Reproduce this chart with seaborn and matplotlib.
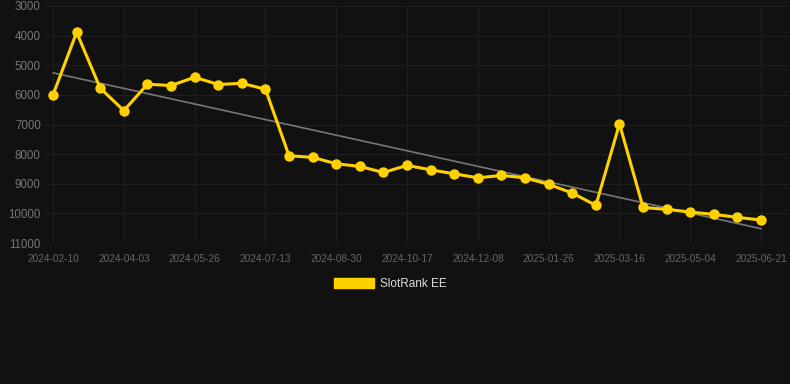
import numpy as np
import pandas as pd
import seaborn as sns
import matplotlib.pyplot as plt
from matplotlib.patches import Patch

# rank readings, one every ~16 days
rank = [6000, 3890, 5775, 6530, 5640, 5685, 5405, 5650, 5610, 5810,
        8055, 8110, 8325, 8415, 8620, 8380, 8530, 8665, 8800, 8720,
        8800, 9020, 9315, 9730, 6980, 9800, 9865, 9955, 10035, 10135,
        10225]
tick_labels = ['2024-02-10', '2024-04-03', '2024-05-26', '2024-07-13',
               '2024-08-30', '2024-10-17', '2024-12-08', '2025-01-26',
               '2025-03-16', '2025-05-04', '2025-06-21']
series_name = 'SlotRank EE'

bg = '#111111'
yellow = '#FFD100'

df = pd.DataFrame({'idx': np.arange(len(rank)), 'rank': rank})
slope, icpt = np.polyfit(df['idx'], df['rank'], 1)
df['trend'] = icpt + slope * df['idx']

sns.set_theme(style='dark')
plt.rcParams['font.family'] = ['Liberation Sans', 'DejaVu Sans']

fig = plt.figure(figsize=(7.9, 3.84), dpi=100, facecolor=bg)
ax = fig.add_axes([45 / 790, 1 - 243 / 384, 743 / 790, 237 / 384])
ax.set_facecolor(bg)

sns.lineplot(data=df, x='idx', y='trend', ax=ax, color='#777777', linewidth=1.2)
sns.lineplot(data=df, x='idx', y='rank', ax=ax, color=yellow, linewidth=2.2,
             marker='o', markersize=7.5, markeredgewidth=0, markeredgecolor=yellow)

ax.set_ylim(11000, 3000)
ax.set_xlim(-0.34, 31.14)
ax.set_yticks(range(3000, 11001, 1000))
ax.set_xticks(np.arange(0, len(rank), 3))
ax.set_xticklabels(tick_labels)
ax.tick_params(axis='y', colors='#777777', labelsize=8.3, length=0, pad=3)
ax.tick_params(axis='x', colors='#666666', labelsize=7.2, length=0, pad=8)
ax.grid(True, color='#1f1f1f', linewidth=0.8)
for s in ax.spines.values():
    s.set_visible(False)
ax.set_xlabel('')
ax.set_ylabel('')

fig.legend(handles=[Patch(facecolor=yellow, edgecolor=yellow, label=series_name)],
           loc='center', bbox_to_anchor=(390 / 790, 1 - 284 / 384), frameon=False,
           fontsize=8.5, labelcolor='#dddddd', handlelength=3.4, handleheight=1.0,
           handletextpad=0.5)

fig.savefig('out.png', dpi=100, facecolor=bg)
